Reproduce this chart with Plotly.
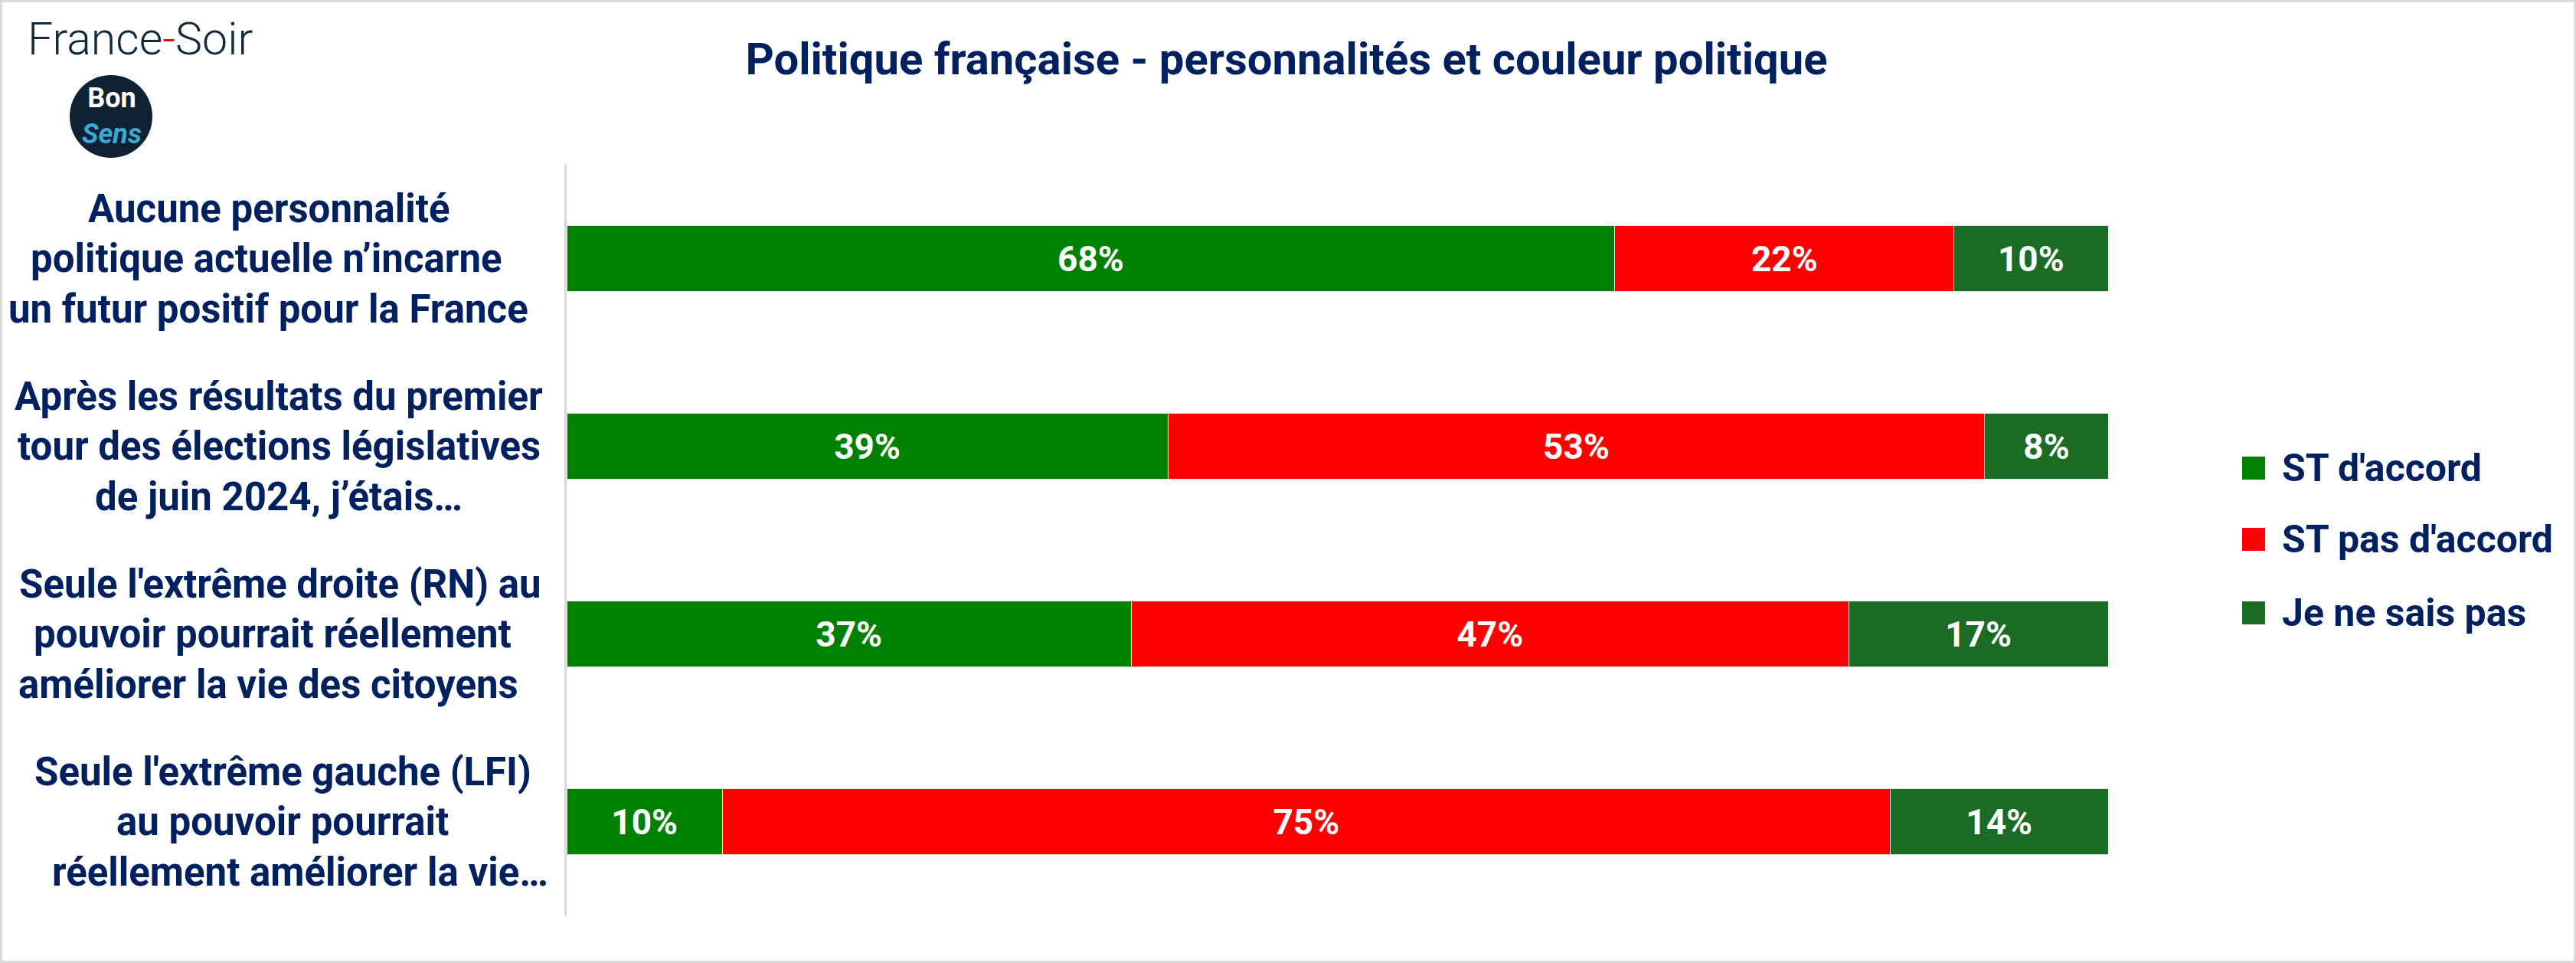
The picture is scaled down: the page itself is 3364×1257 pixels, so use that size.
import plotly.graph_objects as go

# ---------------- data ----------------
categories = [
    "Aucune personnalité<br>politique actuelle n’incarne<br>un futur positif pour la France",
    "Après les résultats du premier<br>tour des élections législatives<br>de juin 2024, j’étais…",
    "Seule l'extrême droite (RN) au<br>pouvoir pourrait réellement<br>améliorer la vie des citoyens",
    "Seule l'extrême gauche (LFI)<br>au pouvoir pourrait<br>réellement améliorer la vie…",
]
series_names = ["ST d'accord", "ST pas d'accord", "Je ne sais pas"]
st_accord = [68, 39, 37, 10]
st_pas_accord = [22, 53, 47, 75]
ne_sais_pas = [10, 8, 17, 14]
series_colors = ["#008000", "#FF0000", "#1B6B25"]
title_text = "Politique française - personnalités et couleur politique"

# ---------------- layout helpers ----------------
W, H = 3364, 1257
L, R, T, B = 740, W - 2753, 215, H - 1195
PW, PH = W - L - R, H - T - B


def px(x):
    return (x - L) / PW


def py(y):
    return 1 - (y - T) / PH


FONT = "Roboto, Arial, sans-serif"
NAVY = "#002060"

fig = go.Figure()
for name, vals, col in zip(series_names, [st_accord, st_pas_accord, ne_sais_pas], series_colors):
    fig.add_trace(go.Bar(
        y=categories, x=vals, orientation="h", name=name,
        marker=dict(color=col, line=dict(color="#e6e6e6", width=1)),
        text=[f"{v}%" for v in vals], textposition="inside",
        insidetextanchor="middle", constraintext="none",
        textfont=dict(color="white", size=46, family=FONT, weight="bold"),
        showlegend=False, hoverinfo="skip",
    ))

annotations = []
shapes = []

# category labels (centred line by line, left of axis)
LINE_H = 65.5
label_x = [[351, 348, 350], [364, 364, 364], [366, 356, 350], [369, 369, 392]]
for c, xs in zip(categories, label_x):
    lines = c.split("<br>")
    n = len(lines)
    for i, (ln, lx) in enumerate(zip(lines, xs)):
        annotations.append(dict(
            text=ln, xref="paper", yref="y", x=px(lx), y=c, xanchor="center",
            yanchor="middle", align="center", showarrow=False,
            yshift=-(i - (n - 1) / 2) * LINE_H,
            font=dict(family=FONT, size=51, color=NAVY, weight="bold"),
        ))

# manual legend
leg_y = [611, 704, 800]
for name, col, ly in zip(series_names, series_colors, leg_y):
    shapes.append(dict(type="rect", xref="paper", yref="paper",
                       x0=px(2928), x1=px(2958), y0=py(ly + 15), y1=py(ly - 15),
                       fillcolor=col, line=dict(width=0)))
    annotations.append(dict(
        text=name, xref="paper", yref="paper", x=px(2978), y=py(ly),
        xanchor="left", yanchor="middle", showarrow=False,
        font=dict(family=FONT, size=50, color=NAVY, weight="bold"),
    ))

# France-Soir logo text
annotations.append(dict(
    text="France<span style='color:#ff0000'>-</span>Soir", xref="paper", yref="paper",
    x=px(34), y=py(50), xanchor="left", yanchor="middle", showarrow=False,
    font=dict(family="Roboto, sans-serif", size=59, color="#0f2a3c", weight=300),
))
# Bon Sens circular logo
cx, cy, rr = 145, 152, 54
shapes.append(dict(type="circle", xref="paper", yref="paper",
                   x0=px(cx - rr), x1=px(cx + rr), y0=py(cy + rr), y1=py(cy - rr),
                   fillcolor="#0e2233", line=dict(width=0)))
annotations.append(dict(
    text="<b>Bon</b><br><b><i><span style='color:#3aa8d8'>Sens</span></i></b>",
    xref="paper", yref="paper", x=px(146), y=py(151),
    xanchor="center", yanchor="middle", align="center", showarrow=False,
    font=dict(family="Roboto, sans-serif", size=36, color="white"),
))

# outer border
shapes.append(dict(type="rect", xref="paper", yref="paper",
                   x0=px(1.5), x1=px(W - 1.5), y0=py(H - 1.5), y1=py(1.5),
                   line=dict(color="#d9d9d9", width=3), fillcolor="rgba(0,0,0,0)", layer="above"))

fig.update_layout(
    width=W, height=H,
    margin=dict(l=L, r=R, t=T, b=B, pad=0),
    barmode="stack", barnorm="percent", bargap=0.65,
    paper_bgcolor="white", plot_bgcolor="white",
    title=dict(text=title_text, x=1680 / W, xanchor="center", y=1 - 77 / H,
               yanchor="middle", xref="container", yref="container",
               font=dict(family=FONT, size=58, color=NAVY, weight="bold")),
    xaxis=dict(range=[0, 100], showticklabels=False, showgrid=False,
               zeroline=False, showline=False, fixedrange=True),
    yaxis=dict(autorange="reversed", showticklabels=False, showgrid=False,
               zeroline=False, showline=True, linecolor="#d9d9d9", linewidth=3,
               ticks=""),
    annotations=annotations, shapes=shapes,
    showlegend=False,
)

fig.write_html("out.html", config={"displayModeBar": False},
               post_script="document.body.style.margin='0';document.body.style.overflow='hidden';")
